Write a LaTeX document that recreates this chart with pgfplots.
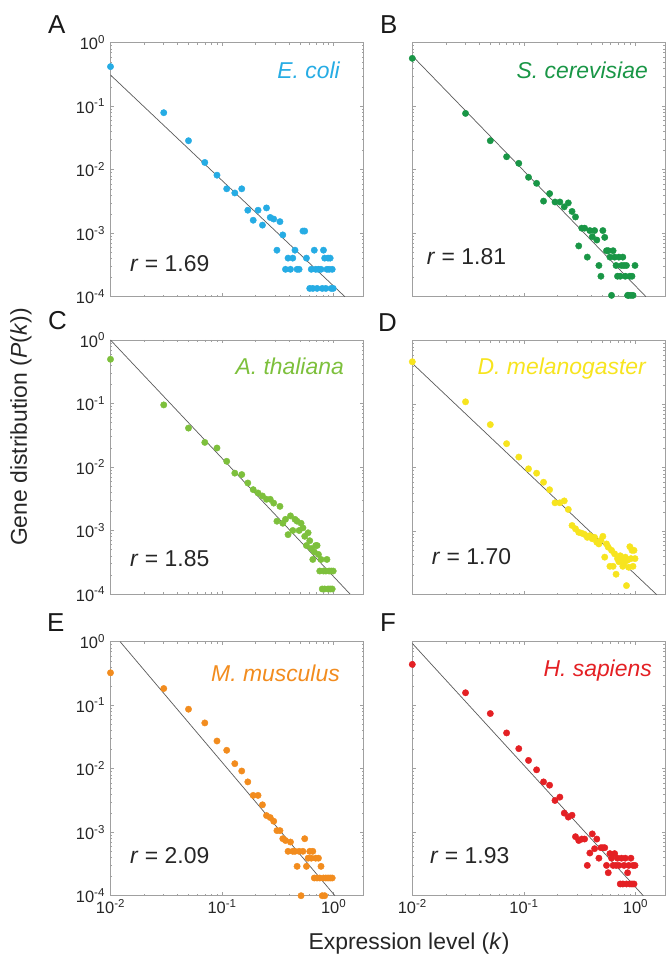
\documentclass[border=0pt]{standalone}
\usepackage{pgfplots}
\pgfplotsset{compat=1.18}
\usepackage{fontspec}
\setmainfont{Liberation Sans}
\definecolor{cA}{RGB}{38,172,228}
\definecolor{cB}{RGB}{25,150,70}
\definecolor{cC}{RGB}{125,192,60}
\definecolor{cD}{RGB}{247,228,30}
\definecolor{cE}{RGB}{242,140,30}
\definecolor{cF}{RGB}{228,32,36}
\definecolor{boxgray}{RGB}{160,160,160}
\definecolor{fitgray}{RGB}{90,90,90}
\pgfplotsset{
  scale only axis, width=253bp, height=254bp,
  xmin=0.01, xmax=1.85, ymin=1e-4, ymax=1,
  axis line style={draw=boxgray, line width=0.6bp},
  tick style={draw=boxgray, line width=0.5bp},
  tick align=inside,
  major tick length=3.5bp, minor tick length=2bp,
  xtick={0.01,0.1,1},
  minor xtick={0.02,0.03,0.04,0.05,0.06,0.07,0.08,0.09,0.2,0.3,0.4,0.5,0.6,0.7,0.8,0.9},
  ytick={1e-4,1e-3,1e-2,1e-1,1},
  minor ytick={2e-4,3e-4,4e-4,5e-4,6e-4,7e-4,8e-4,9e-4,2e-3,3e-3,4e-3,5e-3,6e-3,7e-3,8e-3,9e-3,0.02,0.03,0.04,0.05,0.06,0.07,0.08,0.09,0.2,0.3,0.4,0.5,0.6,0.7,0.8,0.9},
  tick label style={font=\fontsize{16.5}{18}\selectfont, text=black!85},
  yticklabel style={xshift=-2bp},
}
\newcommand{\bigtxt}{\fontsize{23}{26}\selectfont}
\newcommand{\letterfont}{\fontsize{26}{28}\selectfont}
\begin{document}
\begin{tikzpicture}
\path[use as bounding box] (0bp,0bp) rectangle (669bp,958bp);
% A
\begin{loglogaxis}[anchor=north west, at={(110.5bp,915.3bp)},
  xticklabels={,,},
  yticklabels={10\textsuperscript{-4},10\textsuperscript{-3},10\textsuperscript{-2},10\textsuperscript{-1},10\textsuperscript{0}}]
\addplot[color=cA, only marks, mark=*, mark size=3.2bp, mark options={draw=cA, fill=cA}] coordinates {(0.01,0.42)(0.03,0.079)(0.05,0.0286)(0.07,0.0130)(0.09,0.0082)(0.11,0.0050)(0.13,0.0043)(0.15,0.0050)(0.17,0.0023)(0.19,0.0016)(0.21,0.0023)(0.23,0.00134)(0.25,0.0025)(0.27,0.00177)(0.29,0.00167)(0.31,0.00054)(0.33,0.00152)(0.35,0.00094)(0.37,0.00027)(0.39,0.000405)(0.41,0.00027)(0.43,0.000405)(0.45,0.00054)(0.47,0.00027)(0.49,0.00027)(0.53,0.00108)(0.55,0.00108)(0.57,0.000405)(0.61,0.000135)(0.63,0.00027)(0.65,0.000135)(0.67,0.00054)(0.69,0.00027)(0.71,0.000135)(0.73,0.00027)(0.77,0.00027)(0.79,0.000135)(0.81,0.00054)(0.83,0.000405)(0.85,0.000135)(0.87,0.00027)(0.89,0.000405)(0.91,0.00027)(0.93,0.000405)(0.95,0.000135)(0.97,0.00027)(0.99,0.000135)};
\addplot[no marks, draw=fitgray, line width=0.7bp] coordinates {(0.01,0.31)(1.26,1e-4)};
\end{loglogaxis}
% B
\begin{loglogaxis}[anchor=north west, at={(412.3bp,915.3bp)}, xticklabels={,,}, yticklabels={,,,,}]
\addplot[color=cB, only marks, mark=*, mark size=3.2bp, mark options={draw=cB, fill=cB}] coordinates {(0.01,0.567)(0.03,0.077)(0.05,0.0286)(0.07,0.016)(0.09,0.0126)(0.11,0.0076)(0.13,0.0061)(0.15,0.0032)(0.17,0.0042)(0.19,0.0031)(0.21,0.0031)(0.23,0.0026)(0.25,0.0030)(0.27,0.0022)(0.29,0.0018)(0.31,0.00063)(0.33,0.0012)(0.35,0.0012)(0.37,0.00042)(0.39,0.0011)(0.41,0.00088)(0.43,0.0011)(0.45,0.00078)(0.47,0.00031)(0.49,0.00021)(0.51,0.0011)(0.53,0.00086)(0.55,0.00053)(0.57,0.00053)(0.59,0.00042)(0.61,0.000105)(0.63,0.00053)(0.65,0.00042)(0.67,0.00031)(0.69,0.00021)(0.71,0.00042)(0.73,0.00021)(0.75,0.00031)(0.77,0.00042)(0.79,0.00031)(0.81,0.00021)(0.83,0.00031)(0.85,0.000105)(0.87,0.000105)(0.89,0.00021)(0.91,0.000105)(0.93,0.00021)(0.95,0.000105)(0.99,0.00031)};
\addplot[no marks, draw=fitgray, line width=0.7bp] coordinates {(0.01,0.62)(1.24,1e-4)};
\end{loglogaxis}
% C
\begin{loglogaxis}[anchor=north west, at={(110.5bp,618bp)},
  xticklabels={,,},
  yticklabels={10\textsuperscript{-4},10\textsuperscript{-3},10\textsuperscript{-2},10\textsuperscript{-1},10\textsuperscript{0}}]
\addplot[color=cC, only marks, mark=*, mark size=3.2bp, mark options={draw=cC, fill=cC}] coordinates {(0.01,0.497)(0.03,0.095)(0.05,0.041)(0.07,0.0244)(0.09,0.0199)(0.11,0.0123)(0.13,0.0080)(0.15,0.0076)(0.17,0.0056)(0.19,0.0044)(0.21,0.0039)(0.23,0.0035)(0.25,0.0031)(0.27,0.0031)(0.29,0.0027)(0.31,0.0014)(0.33,0.0024)(0.35,0.0013)(0.37,0.0015)(0.39,0.00086)(0.41,0.0017)(0.43,0.0010)(0.45,0.0015)(0.47,0.0014)(0.49,0.0010)(0.51,0.0013)(0.53,0.0011)(0.55,0.00081)(0.57,0.00058)(0.59,0.00092)(0.61,0.00069)(0.63,0.00052)(0.65,0.00035)(0.67,0.00046)(0.69,0.00058)(0.71,0.00058)(0.73,0.00042)(0.75,0.00023)(0.77,0.00035)(0.79,0.00012)(0.81,0.00023)(0.83,0.00012)(0.85,0.00023)(0.87,0.00035)(0.89,0.00012)(0.91,0.00023)(0.93,0.00012)(0.95,0.00023)(0.97,0.00012)(0.99,0.00023)};
\addplot[no marks, draw=fitgray, line width=0.7bp] coordinates {(0.01,1.0)(1.40,1e-4)};
\end{loglogaxis}
% D
\begin{loglogaxis}[anchor=north west, at={(412.3bp,617.3bp)}, xticklabels={,,}, yticklabels={,,,,}]
\addplot[color=cD, only marks, mark=*, mark size=3.2bp, mark options={draw=cD, fill=cD}] coordinates {(0.01,0.466)(0.03,0.109)(0.05,0.0477)(0.07,0.0239)(0.09,0.0147)(0.11,0.0096)(0.13,0.0082)(0.15,0.0059)(0.17,0.0045)(0.19,0.0028)(0.21,0.0028)(0.23,0.0030)(0.25,0.0022)(0.27,0.00123)(0.29,0.00109)(0.31,0.00096)(0.33,0.00093)(0.35,0.00089)(0.37,0.0008)(0.39,0.00085)(0.41,0.00076)(0.43,0.0008)(0.45,0.00067)(0.47,0.00063)(0.49,0.00072)(0.51,0.00083)(0.53,0.00039)(0.55,0.00063)(0.57,0.00056)(0.59,0.00028)(0.61,0.0005)(0.63,0.00028)(0.65,0.00044)(0.67,0.00021)(0.69,0.00037)(0.71,0.00033)(0.73,0.00041)(0.75,0.00037)(0.77,0.00028)(0.79,0.00031)(0.81,0.00039)(0.83,0.000139)(0.85,0.00035)(0.87,0.00027)(0.89,0.00057)(0.91,0.00037)(0.93,0.0005)(0.95,0.00028)(0.97,0.0005)(0.99,0.00037)};
\addplot[no marks, draw=fitgray, line width=0.7bp] coordinates {(0.01,0.44)(1.55,1e-4)};
\end{loglogaxis}
% E
\begin{loglogaxis}[anchor=north west, at={(110.5bp,316.3bp)},
  xticklabels={10\textsuperscript{-2},10\textsuperscript{-1},10\textsuperscript{0}},
  yticklabels={10\textsuperscript{-4},10\textsuperscript{-3},10\textsuperscript{-2},10\textsuperscript{-1},10\textsuperscript{0}}]
\addplot[color=cE, only marks, mark=*, mark size=3.2bp, mark options={draw=cE, fill=cE}] coordinates {(0.01,0.324)(0.03,0.183)(0.05,0.0865)(0.07,0.0526)(0.09,0.0273)(0.11,0.0195)(0.13,0.0120)(0.15,0.0092)(0.17,0.0062)(0.19,0.0038)(0.21,0.0038)(0.23,0.0027)(0.25,0.00183)(0.27,0.0017)(0.29,0.00149)(0.31,0.00106)(0.33,0.00106)(0.35,0.00079)(0.37,0.00074)(0.39,0.0005)(0.41,0.0007)(0.43,0.0005)(0.45,0.0005)(0.47,0.00029)(0.49,0.0005)(0.51,0.0001)(0.53,0.0005)(0.55,0.00079)(0.57,0.00029)(0.59,0.00039)(0.61,0.0005)(0.63,0.00039)(0.65,0.0005)(0.67,0.00019)(0.69,0.00039)(0.71,0.00019)(0.73,0.00039)(0.75,0.00019)(0.77,0.00029)(0.79,0.0001)(0.81,0.00019)(0.83,0.0001)(0.85,0.00019)(0.89,0.00019)(0.93,0.00019)(0.97,0.00019)};
\addplot[no marks, draw=fitgray, line width=0.7bp] coordinates {(0.0122,1.0)(1.026,1e-4)};
\end{loglogaxis}
% F
\begin{loglogaxis}[anchor=north west, at={(412.3bp,316.3bp)},
  xticklabels={10\textsuperscript{-2},10\textsuperscript{-1},10\textsuperscript{0}}, yticklabels={,,,,}]
\addplot[color=cF, only marks, mark=*, mark size=3.2bp, mark options={draw=cF, fill=cF}] coordinates {(0.01,0.439)(0.03,0.157)(0.05,0.0739)(0.07,0.0366)(0.09,0.0207)(0.11,0.0135)(0.13,0.0096)(0.15,0.0062)(0.17,0.0055)(0.19,0.00316)(0.21,0.00357)(0.23,0.0020)(0.25,0.00173)(0.27,0.00185)(0.29,0.00085)(0.31,0.00074)(0.33,0.00078)(0.35,0.00078)(0.37,0.0003)(0.39,0.00047)(0.41,0.00094)(0.43,0.00055)(0.45,0.00078)(0.47,0.00039)(0.49,0.00057)(0.51,0.00057)(0.53,0.00057)(0.55,0.0003)(0.57,0.00023)(0.59,0.00046)(0.61,0.00039)(0.63,0.0003)(0.65,0.00046)(0.67,0.0003)(0.69,0.00039)(0.71,0.0003)(0.73,0.000153)(0.75,0.00039)(0.77,0.000153)(0.79,0.0003)(0.81,0.00039)(0.83,0.000153)(0.85,0.00023)(0.87,0.0003)(0.89,0.000153)(0.91,0.00039)(0.93,0.000153)(0.95,0.0003)(0.97,0.000153)(0.99,0.0003)};
\addplot[no marks, draw=fitgray, line width=0.7bp] coordinates {(0.01,0.94)(1.175,1e-4)};
\end{loglogaxis}
% species names
\begin{scope}[every node/.style={inner sep=0pt, anchor=base east, font=\bigtxt\itshape}]
\node[text=cA] at (340bp,879bp) {E. coli};
\node[text=cB] at (648bp,879.7bp) {S. cerevisiae};
\node[text=cC] at (344bp,583bp) {A. thaliana};
\node[text=cD] at (646bp,583bp) {D. melanogaster};
\node[text=cE] at (340bp,276.3bp) {M. musculus};
\node[text=cF] at (652bp,281.3bp) {H. sapiens};
\end{scope}
% r values
\begin{scope}[every node/.style={inner sep=0pt, anchor=base west, font=\bigtxt, text=black!85}]
\node at (130bp,686.3bp) {\textit{r} = 1.69};
\node at (426.7bp,693bp) {\textit{r} = 1.81};
\node at (130bp,391.3bp) {\textit{r} = 1.85};
\node at (431.7bp,393bp) {\textit{r} = 1.70};
\node at (130bp,94.7bp) {\textit{r} = 2.09};
\node at (430bp,94.7bp) {\textit{r} = 1.93};
\end{scope}
% panel letters
\begin{scope}[every node/.style={inner sep=0pt, anchor=base west, font=\letterfont, text=black!90}]
\node at (48bp,924.7bp) {A};
\node at (380bp,924.7bp) {B};
\node at (48bp,628bp) {C};
\node at (378bp,626.3bp) {D};
\node at (47bp,326.3bp) {E};
\node at (380bp,326.3bp) {F};
\end{scope}
% axis titles
\node[rotate=90, font=\bigtxt, text=black!85, inner sep=0pt] at (21bp,531bp) {Gene distribution (\textit{P}(\textit{k}))};
\node[font=\bigtxt, text=black!85, inner sep=0pt] at (409bp,14bp) {Expression level (\textit{k})};
\end{tikzpicture}
\end{document}
